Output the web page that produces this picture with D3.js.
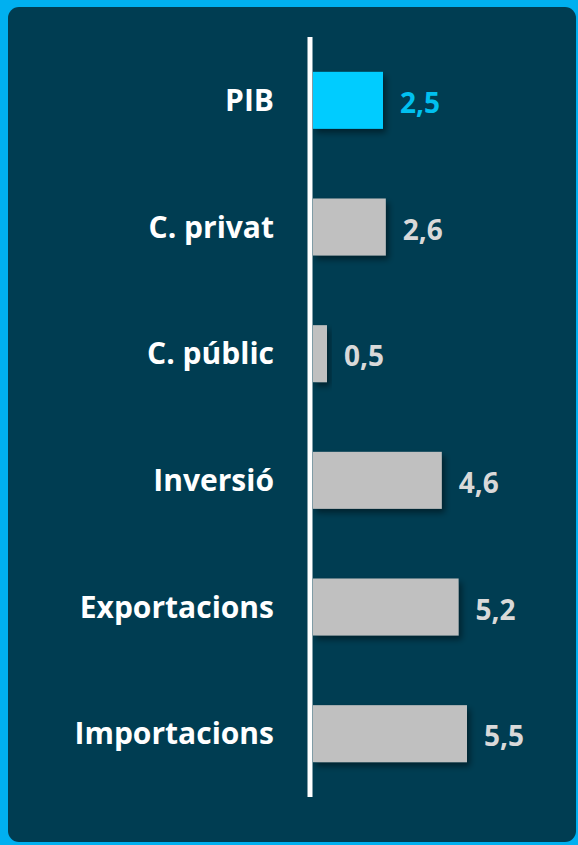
<!DOCTYPE html>
<html>
<head>
<meta charset="utf-8">
<script src="https://cdn.jsdelivr.net/npm/d3@7"></script>
<style>
  body { margin: 0; background: #00b0f0; }
  svg { display: block; }
</style>
</head>
<body>
<script>
var categories = ["PIB", "C. privat", "C. públic", "Inversió", "Exportacions", "Importacions"];
var values = [2.5, 2.6, 0.5, 4.6, 5.2, 5.5];
var valueLabels = ["2,5", "2,6", "0,5", "4,6", "5,2", "5,5"];

var w = 578,
  h = 845,
  axisX = 313,
  plotTop = 37,
  plotBottom = 797;

var svg = d3.select("body")
  .append("svg")
  .attr("width", w)
  .attr("height", h);

var defs = svg.append("defs");
var shadow = defs.append("filter")
  .attr("id", "shadow")
  .attr("x", "-20%").attr("y", "-20%")
  .attr("width", "150%").attr("height", "160%");
shadow.append("feDropShadow")
  .attr("dx", 3).attr("dy", 4)
  .attr("stdDeviation", 3)
  .attr("flood-color", "#000")
  .attr("flood-opacity", 0.45);

// outer border + panel
svg.append("rect")
  .attr("x", 0).attr("y", 0)
  .attr("width", w).attr("height", h)
  .attr("fill", "#00b0f0");
svg.append("rect")
  .attr("x", 8).attr("y", 7)
  .attr("width", w - 10).attr("height", h - 10)
  .attr("rx", 11)
  .attr("fill", "#003d52");

var xScale = d3.scaleLinear().domain([0, 5.5]).range([axisX, 467]);
var yScale = d3.scaleBand().domain(categories).range([plotTop, plotBottom]).paddingInner(0.55).paddingOuter(0.275);

svg.selectAll(".bar")
  .data(categories)
  .enter()
  .append("rect")
  .attr("class", "bar")
  .attr("x", xScale(0))
  .attr("y", d => yScale(d))
  .attr("width", (d, i) => xScale(values[i]) - xScale(0))
  .attr("height", yScale.bandwidth())
  .attr("fill", (d, i) => i === 0 ? "#00ccff" : "#c0c0c0")
  .attr("filter", "url(#shadow)");

// axis line
svg.append("line")
  .attr("x1", axisX - 3).attr("x2", axisX - 3)
  .attr("y1", plotTop).attr("y2", plotBottom)
  .attr("stroke", "#fff")
  .attr("stroke-width", 5);

svg.selectAll(".cat")
  .data(categories)
  .enter()
  .append("text")
  .attr("class", "cat")
  .attr("x", 274)
  .attr("y", d => yScale(d) + yScale.bandwidth() / 2)
  .attr("dy", "0.36em")
  .attr("text-anchor", "end")
  .attr("fill", "#fff")
  .style("font-family", "'Open Sans', sans-serif")
  .style("font-weight", "bold")
  .style("font-size", "30px")
  .text(d => d);

svg.selectAll(".val")
  .data(categories)
  .enter()
  .append("text")
  .attr("class", "val")
  .attr("x", (d, i) => xScale(values[i]) + 17)
  .attr("y", d => yScale(d) + yScale.bandwidth() / 2)
  .attr("dy", "0.45em")
  .attr("fill", (d, i) => i === 0 ? "#00c0f0" : "#d9d9d9")
  .style("font-family", "'Open Sans', sans-serif")
  .style("font-weight", "bold")
  .style("font-size", "28px")
  .text((d, i) => valueLabels[i]);
</script>
</body>
</html>
